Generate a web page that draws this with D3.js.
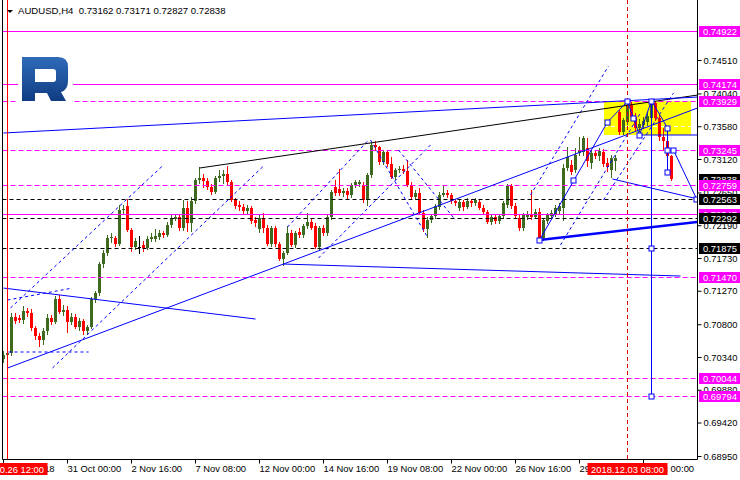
<!DOCTYPE html>
<html><head><meta charset="utf-8">
<script src="https://cdn.jsdelivr.net/npm/d3@7"></script>
<style>
html,body{margin:0;padding:0;background:#fff;}
svg{display:block;}
text{font-family:"Liberation Sans",Arial,sans-serif;}
</style></head>
<body>
<svg id="chart" width="740" height="480"></svg>
<script>
// ---------------- DATA ----------------
const symbolTitle = "AUDUSD,H4  0.73162 0.73171 0.72827 0.72838";

const openP = [0.70312,0.70368,0.70396,0.70901,0.70887,0.70859,0.70985,0.70957,0.70746,0.70634,
0.70578,0.70704,0.70887,0.70831,0.71154,0.70971,0.70999,0.70831,0.70901,0.70761,
0.70845,0.70704,0.70761,0.71154,0.71238,0.71645,0.71800,0.72011,0.72011,0.71926,
0.72403,0.72460,0.72123,0.71884,0.71884,0.71912,0.71870,0.71997,0.71997,0.72025,
0.72081,0.72053,0.72193,0.72277,0.72305,0.72151,0.72432,0.72221,0.72530,0.72825,
0.72853,0.72811,0.72727,0.72656,0.72853,0.72881,0.72909,0.72797,0.72544,0.72474,
0.72446,0.72389,0.72432,0.72263,0.72137,0.72291,0.72151,0.71926,0.72151,0.71926,
0.71715,0.71800,0.72081,0.71912,0.72095,0.72053,0.72179,0.72235,0.72179,0.71884,
0.72151,0.72081,0.72305,0.72727,0.72699,0.72642,0.72670,0.72614,0.72755,0.72769,
0.72755,0.72544,0.72895,0.73316,0.73288,0.73078,0.73218,0.73050,0.72867,0.72965,
0.72979,0.72951,0.72755,0.72586,0.72642,0.72361,0.72137,0.72263,0.72319,0.72446,
0.72614,0.72642,0.72614,0.72530,0.72432,0.72516,0.72446,0.72530,0.72502,0.72516,
0.72432,0.72375,0.72235,0.72305,0.72249,0.72319,0.72474,0.72741,0.72460,0.72291,
0.72151,0.72305,0.72347,0.72305,0.72375,0.72011,0.72249,0.72319,0.72347,0.72389,
0.72432,0.72993,0.73036,0.72965,0.73204,0.73218,0.73274,0.73064,0.73204,0.73162,
0.73218,0.73064,0.72965,0.73092,0.73780,0.73499,0.73639,0.73878,0.73710,0.73555,
0.73597,0.73639,0.73696,0.73906,0.73696,0.73429,0.73373,0.73162];

const highP = [0.70424,0.70438,0.70957,0.70957,0.70929,0.71056,0.71028,0.71014,0.70775,0.70676,
0.70746,0.70943,0.70929,0.71196,0.71210,0.71070,0.71056,0.70957,0.70943,0.70887,
0.70873,0.70789,0.71182,0.71266,0.71673,0.71842,0.72053,0.72081,0.72039,0.72474,
0.72474,0.72558,0.72151,0.72011,0.72039,0.71968,0.72039,0.72081,0.72137,0.72123,
0.72109,0.72235,0.72347,0.72347,0.72347,0.72544,0.72530,0.72586,0.72853,0.73008,
0.72909,0.72853,0.72769,0.72881,0.72965,0.72965,0.73022,0.72825,0.72572,0.72530,
0.72488,0.72474,0.72460,0.72305,0.72333,0.72361,0.72193,0.72179,0.72179,0.71954,
0.71828,0.72179,0.72123,0.72109,0.72151,0.72207,0.72361,0.72277,0.72221,0.72179,
0.72193,0.72333,0.72684,0.72825,0.72979,0.72712,0.72712,0.72783,0.72825,0.72825,
0.72797,0.72923,0.73345,0.73373,0.73303,0.73246,0.73246,0.73148,0.72993,0.73022,
0.73036,0.73106,0.72797,0.72684,0.72712,0.72403,0.72305,0.72347,0.72488,0.72656,
0.72755,0.72684,0.72642,0.72558,0.72558,0.72544,0.72572,0.72558,0.72572,0.72558,
0.72474,0.72403,0.72333,0.72347,0.72347,0.72530,0.72769,0.72769,0.72502,0.72333,
0.72361,0.72389,0.72684,0.72418,0.72432,0.72291,0.72361,0.72403,0.72474,0.72502,
0.73050,0.73288,0.73106,0.73274,0.73429,0.73443,0.73415,0.73246,0.73246,0.73274,
0.73260,0.73134,0.73176,0.73176,0.73808,0.73696,0.73948,0.73920,0.73766,0.73682,
0.73710,0.73780,0.73962,0.73934,0.73738,0.73555,0.73401,0.73171];

const lowP = [0.70269,0.70326,0.70368,0.70817,0.70831,0.70817,0.70915,0.70718,0.70592,0.70494,
0.70522,0.70662,0.70803,0.70817,0.70957,0.70929,0.70690,0.70803,0.70746,0.70718,
0.70662,0.70662,0.70746,0.71112,0.71210,0.71603,0.71772,0.71954,0.71898,0.71912,
0.72347,0.72109,0.71828,0.71856,0.71800,0.71828,0.71856,0.71968,0.71968,0.71997,
0.72025,0.72039,0.72165,0.72263,0.72123,0.72123,0.72109,0.72109,0.72502,0.72783,
0.72727,0.72699,0.72628,0.72642,0.72811,0.72783,0.72769,0.72530,0.72432,0.72403,
0.72361,0.72361,0.72221,0.72179,0.72095,0.72095,0.71912,0.71898,0.71898,0.71701,
0.71631,0.71786,0.71898,0.71884,0.72025,0.72025,0.72151,0.72137,0.71870,0.71856,
0.72053,0.72053,0.72277,0.72614,0.72614,0.72600,0.72572,0.72586,0.72727,0.72741,
0.72516,0.72474,0.72867,0.73246,0.73050,0.73050,0.73022,0.72853,0.72839,0.72937,
0.72923,0.72741,0.72572,0.72558,0.72347,0.72109,0.72025,0.72235,0.72291,0.72418,
0.72600,0.72586,0.72502,0.72474,0.72403,0.72403,0.72432,0.72460,0.72474,0.72418,
0.72361,0.72221,0.72207,0.72221,0.72221,0.72291,0.72446,0.72432,0.72291,0.72123,
0.72123,0.72277,0.72277,0.72291,0.71982,0.71982,0.72221,0.72291,0.72319,0.72361,
0.72263,0.72965,0.72909,0.72937,0.73176,0.73176,0.73022,0.72993,0.73134,0.73106,
0.73022,0.72951,0.72867,0.72965,0.73471,0.73471,0.73611,0.73682,0.73513,0.73513,
0.73555,0.73597,0.73667,0.73667,0.73387,0.73246,0.73134,0.72827];

const closeP = [0.70368,0.70396,0.70901,0.70845,0.70859,0.70985,0.70957,0.70746,0.70634,0.70578,
0.70704,0.70887,0.70831,0.71154,0.70971,0.70999,0.70831,0.70901,0.70761,0.70845,
0.70704,0.70761,0.71154,0.71238,0.71645,0.71800,0.72011,0.72025,0.71926,0.72403,
0.72418,0.72123,0.71884,0.71968,0.71884,0.71870,0.71997,0.72025,0.72039,0.72081,
0.72053,0.72193,0.72291,0.72305,0.72151,0.72432,0.72221,0.72530,0.72825,0.72853,
0.72811,0.72727,0.72656,0.72853,0.72881,0.72909,0.72797,0.72544,0.72460,0.72446,
0.72389,0.72432,0.72249,0.72221,0.72291,0.72151,0.71926,0.72151,0.71926,0.71715,
0.71800,0.72081,0.71912,0.72081,0.72053,0.72179,0.72235,0.72151,0.71884,0.72151,
0.72081,0.72305,0.72656,0.72642,0.72642,0.72670,0.72614,0.72755,0.72797,0.72797,
0.72544,0.72895,0.73316,0.73288,0.73078,0.73218,0.73050,0.72867,0.72965,0.72979,
0.72951,0.72755,0.72586,0.72642,0.72361,0.72137,0.72263,0.72319,0.72460,0.72614,
0.72642,0.72614,0.72530,0.72502,0.72516,0.72446,0.72530,0.72502,0.72544,0.72432,
0.72375,0.72235,0.72305,0.72249,0.72319,0.72502,0.72741,0.72460,0.72319,0.72151,
0.72333,0.72347,0.72305,0.72375,0.72011,0.72263,0.72333,0.72361,0.72432,0.72460,
0.72993,0.73148,0.72937,0.73176,0.73246,0.73415,0.73092,0.73204,0.73162,0.73232,
0.73050,0.73008,0.73134,0.73134,0.73499,0.73667,0.73878,0.73710,0.73555,0.73611,
0.73653,0.73724,0.73920,0.73696,0.73429,0.73373,0.73162,0.72838];

const timeTickIdx  = [0,16,32,48,64,80,96,112,128,144,160];
const timeTickText = ["26 Oct 2018","31 Oct 00:00","2 Nov 16:00","7 Nov 08:00","12 Nov 00:00",
  "14 Nov 16:00","19 Nov 08:00","22 Nov 00:00","26 Nov 16:00","29 Nov 08:00","4 Dec 00:00"];
const priceTicks = [0.74510,0.74040,0.73580,0.73120,0.72650,0.72190,0.71730,0.71270,
  0.70800,0.70340,0.69880,0.69420,0.68950];

const magentaSolidLevels  = [0.74922,0.74174,0.72347];
const magentaDashedLevels = [0.73929,0.73245,0.72759,0.71470,0.70044,0.69794];
const blackDashedLevels   = [0.72563,0.72292,0.71875];
const currentPrice = 0.72838;

// trend objects: [barIndex1, price1, barIndex2, price2]
const blackTrends = [[49,0.72993,173.5,0.74018]];
const blueTrends = [
  [0,0.73485,173.5,0.73990],
  [0,0.71308,63,0.70873],
  [1,0.70185,173.5,0.73836],
  [70,0.71645,169.25,0.71477],
  [134,0.71982,151,0.73639],
  [151,0.73639,156,0.73929],
  [156,0.73929,159,0.73457],
  [159,0.73457,162,0.73940],
  [162,0.73940,166,0.73555],
  [166,0.73555,166,0.72937],
  [167.5,0.73245,173.25,0.72563],
  [152.25,0.72839,173.25,0.72563],
  [162,0.73940,162,0.69794],
  [159,0.73457,173.5,0.73457]
];
const blueThickTrends = [[134,0.71982,173.5,0.72235]];
const blueDottedTrends = [
  [1.75,0.71028,40,0.73036],
  [12.25,0.70185,65,0.73022],
  [1,0.71140,17.25,0.71308],
  [1.25,0.70410,21.25,0.70410],
  [71,0.72165,91.25,0.73387],
  [78.75,0.71730,107.25,0.73345],
  [91.75,0.73387,106,0.72025],
  [98.75,0.73246,113,0.72263],
  [131.75,0.72614,151.25,0.74425],
  [139.25,0.71912,159.25,0.73765],
  [150,0.72544,167.5,0.74046]
];
const pivotPoints = [[134,0.71982],[142.5,0.72825],[151,0.73639],[156,0.73929],[157.5,0.73696],
  [159,0.73457],[162,0.73940],[166,0.73555],[166,0.73245],[167.5,0.73245],[166,0.72937],
  [173.25,0.72563],[162,0.71875],[162,0.69794]];
const zoneBox = {i1:150.25, i2:172, p1:0.73929, p2:0.73457, mid:0.73580};
const redSolidIdx = 1,   redSolidLabel = "2018.10.26 12:00";
const redDashIdx  = 156, redDashLabel  = "2018.12.03 08:00";

// ---------------- RENDER ----------------
const svg = d3.select("#chart");
const FL = 2.5, FR = 697.5, FB = 459.5;
const x = d3.scaleLinear().domain([0, 173.5]).range([3, 697]);
const y = d3.scaleLinear().domain([0.68950, 0.74510]).range([456, 60]);
const Y = v => Math.round(y(v)) + 0.5;
const FONT = "Liberation Sans, Arial, sans-serif";

svg.append("rect").attr("width",740).attr("height",480).attr("fill","#fff");
const defs = svg.append("defs");
defs.append("clipPath").attr("id","plotclip").append("rect")
  .attr("x",FL+0.5).attr("y",0).attr("width",FR-FL-1).attr("height",FB);
const grad = defs.append("linearGradient").attr("id","logoGrad")
  .attr("x1",0).attr("y1",0).attr("x2",0).attr("y2",1);
grad.append("stop").attr("offset","0%").attr("stop-color","#2f6bb8");
grad.append("stop").attr("offset","100%").attr("stop-color","#0f3c82");

const plot = svg.append("g").attr("clip-path","url(#plotclip)");

// yellow zone (background)
plot.append("rect")
  .attr("x", x(zoneBox.i1)).attr("width", x(zoneBox.i2)-x(zoneBox.i1))
  .attr("y", y(zoneBox.p1)).attr("height", y(zoneBox.p2)-y(zoneBox.p1))
  .attr("fill","#ffff00");
plot.append("line")
  .attr("x1", x(zoneBox.i1)).attr("x2", x(zoneBox.i2))
  .attr("y1", Y(zoneBox.mid)).attr("y2", Y(zoneBox.mid))
  .attr("stroke","#fff").attr("stroke-dasharray","4,3");

// candles
const bars = openP.map((o,i)=>({i, o, h:highP[i], l:lowP[i], c:closeP[i]}));
const col = d => d.c > d.o ? "#3d6a1f" : (d.c < d.o ? "#ff0000" : "#000");
plot.append("g").selectAll("line").data(bars).join("line")
  .attr("x1", d=>x(d.i)+0.5).attr("x2", d=>x(d.i)+0.5)
  .attr("y1", d=>Math.round(y(d.h))).attr("y2", d=>Math.round(y(d.l))+1)
  .attr("stroke", col).attr("stroke-width",1);
plot.append("g").selectAll("rect").data(bars).join("rect")
  .attr("x", d=>x(d.i)-1).attr("width",3)
  .attr("y", d=>Math.round(y(Math.max(d.o,d.c))))
  .attr("height", d=>Math.max(1, Math.round(y(Math.min(d.o,d.c))) - Math.round(y(Math.max(d.o,d.c)))))
  .attr("fill", col);

// horizontal levels
const hl = (levels, color, dash) => plot.append("g").selectAll("line").data(levels).join("line")
  .attr("x1", FL).attr("x2", FR).attr("y1", d=>Y(d)).attr("y2", d=>Y(d))
  .attr("stroke", color).attr("stroke-width",1).attr("stroke-dasharray", dash);
hl(magentaDashedLevels, "#ff00ff", "5,3");
hl(blackDashedLevels, "#000", "4,3");
hl(magentaSolidLevels, "#ff00ff", null);

// trend lines
const tl = (arr, color, w, dash) => plot.append("g").selectAll("line").data(arr).join("line")
  .attr("x1", d=>x(d[0])+0.5).attr("y1", d=>y(d[1]))
  .attr("x2", d=>x(d[2])+0.5).attr("y2", d=>y(d[3]))
  .attr("stroke", color).attr("stroke-width", w).attr("stroke-dasharray", dash);
tl(blueDottedTrends, "#0000ff", 1, "3,3");
tl(blackTrends, "#000", 1, null);
tl(blueTrends, "#0000ff", 1, null);
tl(blueThickTrends, "#0000ff", 2.5, null);

// vertical markers
plot.append("line").attr("x1", x(redSolidIdx)+0.5).attr("x2", x(redSolidIdx)+0.5)
  .attr("y1",0).attr("y2",FB).attr("stroke","#ff0000").attr("stroke-width",1);
plot.append("line").attr("x1", x(redDashIdx)+0.5).attr("x2", x(redDashIdx)+0.5)
  .attr("y1",0).attr("y2",FB).attr("stroke","#e00000").attr("stroke-width",1)
  .attr("stroke-dasharray","4,3");

// pivot squares
plot.append("g").selectAll("rect").data(pivotPoints).join("rect")
  .attr("x", d=>Math.round(x(d[0]))-2).attr("y", d=>Math.round(y(d[1]))-2)
  .attr("width",5).attr("height",5)
  .attr("fill","#fff").attr("stroke","#0000ff").attr("stroke-width",1);

// frame
svg.append("line").attr("x1",FL).attr("x2",FL).attr("y1",0).attr("y2",FB).attr("stroke","#000");
svg.append("line").attr("x1",FR).attr("x2",FR).attr("y1",0).attr("y2",FB).attr("stroke","#000");
svg.append("line").attr("x1",FL).attr("x2",FR).attr("y1",FB).attr("y2",FB).attr("stroke","#000");

// right axis
const yAxis = d3.axisRight(y).tickValues(priceTicks).tickFormat(d3.format(".5f")).tickSize(4).tickPadding(2);
const ga = svg.append("g").attr("transform",`translate(${FR},0)`).call(yAxis);
ga.select(".domain").remove();
ga.selectAll("line").attr("stroke","#000");
ga.selectAll("text").attr("font-size","9.4px").attr("font-family",FONT).attr("fill","#000");

// bottom axis
const xAxis = d3.axisBottom(x).tickValues(timeTickIdx).tickFormat((d,i)=>timeTickText[i]).tickSize(4).tickPadding(2);
const gb = svg.append("g").attr("transform",`translate(0,${FB})`).call(xAxis);
gb.select(".domain").remove();
gb.selectAll("line").attr("stroke","#000");
gb.selectAll("text").attr("text-anchor","start").attr("x",0)
  .attr("font-size","9.4px").attr("font-family",FONT).attr("fill","#000");

// price label boxes
const priceBox = (v, bg) => {
  const cy = Math.round(y(v));
  const g = svg.append("g");
  g.append("rect").attr("x",699).attr("y",cy-5).attr("width",41).attr("height",11).attr("fill",bg);
  g.append("text").attr("x",703).attr("y",cy+0.5).attr("dy","0.35em")
    .attr("font-size","9.4px").attr("font-family",FONT).attr("fill","#fff")
    .text(d3.format(".5f")(v));
};
priceBox(currentPrice, "#000");
[...magentaSolidLevels, ...magentaDashedLevels].sort((a,b)=>a-b).forEach(v=>priceBox(v,"#ff00ff"));
blackDashedLevels.forEach(v=>priceBox(v,"#000"));

// time label boxes
const timeBox = (idx, label) => {
  const cx = x(idx)+0.5;
  svg.append("rect").attr("x",cx-40).attr("y",463).attr("width",80).attr("height",12).attr("fill","#ff0000");
  svg.append("text").attr("x",cx).attr("y",469.5).attr("dy","0.35em").attr("text-anchor","middle")
    .attr("font-size","9.4px").attr("font-family",FONT).attr("fill","#fff").text(label);
};
timeBox(redSolidIdx, redSolidLabel);
timeBox(redDashIdx, redDashLabel);

// title
svg.append("path").attr("d","M7,10 L13,10 L10,13 Z").attr("fill","#000");
svg.append("text").attr("x",18).attr("y",14).attr("font-size","9.6px").attr("font-family",FONT)
  .attr("fill","#000").attr("xml:space","preserve").style("white-space","pre").text(symbolTitle);

// logo
svg.append("rect").attr("x",18).attr("y",51).attr("width",55).attr("height",55).attr("fill","#fff");
svg.append("path")
  .attr("d","M22,57 H58 Q68,57 68,67 V81 Q68,90 61,92 L66,101 H51 L47,93 H35 V101 H22 Z M35,69 H53 Q56,69 56,72 V79 Q56,82 53,82 H35 Z")
  .attr("fill","url(#logoGrad)").attr("fill-rule","evenodd");
</script>
</body></html>
